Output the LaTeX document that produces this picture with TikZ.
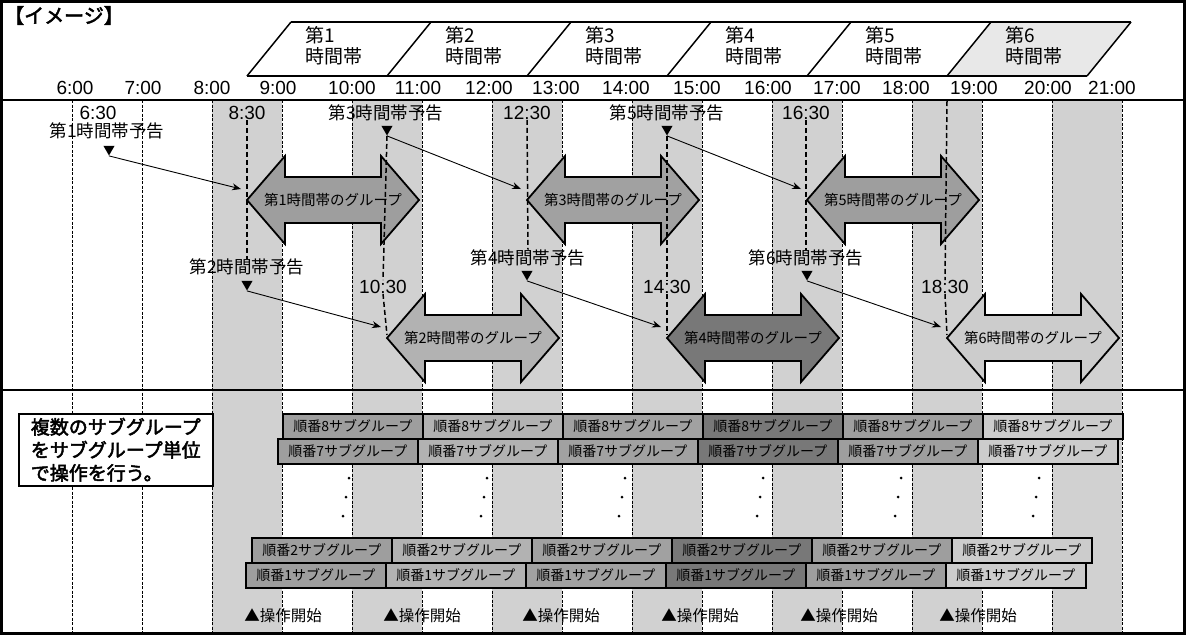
\documentclass[tikz,border=0pt]{standalone}
\usepackage{fontspec}
\setmainfont{Liberation Sans}
\newfontfamily\jp[AutoFakeBold=2.5]{Noto Sans CJK JP}
\usetikzlibrary{shapes.geometric,arrows.meta}
\definecolor{bandgray}{gray}{0.82}
\definecolor{gA}{gray}{0.62}
\definecolor{gB}{gray}{0.70}
\definecolor{gC}{gray}{0.63}
\definecolor{gD}{gray}{0.47}
\definecolor{gE}{gray}{0.62}
\definecolor{gF}{gray}{0.80}
\newcommand\grouparrow[5]{%
  \draw[line width=1.8pt, fill=#4, line join=miter] (#2,#3) -- ++(38,-44) -- ++(0,21) -- ++(96,0) -- ++(0,-21) -- ++(38,44) -- ++(-38,44) -- ++(0,-21) -- ++(-96,0) -- ++(0,21) -- cycle;
  \node[grouptext] (#1) at ({#2+86},#3) {#5};
  \coordinate (#1tip) at (#2,#3);
}
\begin{document}
\begin{tikzpicture}[x=1pt,y=-1pt,
  gridline/.style={draw=black, dash pattern=on 3pt off 1.5pt, line width=0.8pt},
  midline/.style={draw=black, dash pattern=on 5pt off 3pt, line width=1.5pt},
  timelbl/.style={font=\fontsize{19}{19}\selectfont, inner sep=0pt},
  jplbl/.style={font=\jp\fontsize{17.5}{17.5}\selectfont, inner sep=0pt},
  tri/.style={regular polygon, regular polygon sides=3, shape border rotate=180, fill=black, inner sep=0pt, minimum size=13pt},
  conn/.style={-{Stealth[length=9pt,width=7pt]}, line width=0.9pt},
  grouptext/.style={font=\jp\fontsize{14.5}{14.5}\selectfont, inner sep=0pt},
  subbox/.style={draw=black, line width=1.8pt, minimum width=140pt, minimum height=25pt, anchor=north west, inner sep=0pt, font=\jp\fontsize{14}{14}\selectfont},
  startlbl/.style={font=\jp\fontsize{15.5}{15.5}\selectfont, inner sep=0pt},
  headlbl/.style={font=\jp\fontsize{19}{21}\selectfont, align=left, anchor=north west, inner sep=0pt},
]
\useasboundingbox (0,0) rectangle (1186,635);
\fill[white] (0,0) rectangle (1186,635);
% bands and grid
\foreach \x in {212,352,...,1052} {
  \fill[bandgray] (\x,100) rectangle (\x+70,632);
  \draw[gridline] (\x,100) -- (\x,632);
  \draw[gridline] (\x+70,100) -- (\x+70,632);
}
\draw[gridline] (72,100) -- (72,632);
\draw[gridline] (142,100) -- (142,632);
% horizontal rules and frame
\draw[line width=1.5pt] (0,100) -- (1186,100);
\draw[line width=1.5pt] (0,390) -- (1186,390);
\draw[line width=3pt] (1.5,1.5) rectangle (1184.5,633.5);
% title
\node[font=\jp\bfseries\fontsize{20}{20}\selectfont, anchor=north west, inner sep=0pt] (title) at (4,6) {【イメージ】};
% header parallelograms
\fill[gray!18] (947,76) -- (991,22) -- (1131,22) -- (1087,76) -- cycle;
\draw[line width=1.5pt] (291,22) -- (1131,22);
\draw[line width=1.5pt] (247,76) -- (1087,76);
\foreach \k in {0,...,6} {
  \draw[line width=1.5pt] ({247+140*\k},76) -- ({291+140*\k},22);
}
\foreach \k in {1,...,6} {
  \node[headlbl] (h\k) at ({305+140*(\k-1)},26) {第\k\\時間帯};
}
% time labels
\foreach \x/\t [count=\i] in {75/6:00, 143/7:00, 212/8:00, 278/9:00, 352/10:00, 418/11:00, 489/12:00, 556/13:00, 626/14:00, 697/15:00, 768/16:00, 837/17:00, 906/18:00, 974/19:00, 1048/20:00, 1112/21:00} {
  \node[timelbl] (tm\i) at (\x,88) {\t};
}
% group arrows
\grouparrow{g1}{247}{200}{gA}{第1時間帯のグループ}
\grouparrow{g3}{527}{200}{gC}{第3時間帯のグループ}
\grouparrow{g5}{807}{200}{gE}{第5時間帯のグループ}
\grouparrow{g2}{387}{338}{gB}{第2時間帯のグループ}
\grouparrow{g4}{667}{338}{gD}{第4時間帯のグループ}
\grouparrow{g6}{947}{338}{gF}{第6時間帯のグループ}
% labels
\node[timelbl] (l630) at (98,113) {6:30};
\node[jplbl] (p1) at (107,131) {第1時間帯予告};
\node[tri] (t1) at (109,149) {};
\node[timelbl] (l830) at (247,113) {8:30};
\node[jplbl] (p3) at (386,113) {第3時間帯予告};
\node[tri] (t3) at (387,129) {};
\node[timelbl] (l1230) at (527,113) {12:30};
\node[jplbl] (p5) at (667,113) {第5時間帯予告};
\node[tri] (t5) at (667,129) {};
\node[timelbl] (l1630) at (806,113) {16:30};
\node[jplbl] (p2) at (247,267) {第2時間帯予告};
\node[tri] (t2) at (247,284) {};
\node[jplbl] (p4) at (528,258) {第4時間帯予告};
\node[tri] (t4) at (527,274) {};
\node[jplbl] (p6) at (806,258) {第6時間帯予告};
\node[tri] (t6) at (807,274) {};
\node[timelbl] (l1030) at (383,287) {10:30};
\node[timelbl] (l1430) at (667,287) {14:30};
\node[timelbl] (l1830) at (945,287) {18:30};
% mid dashed lines
\draw[midline] (l830.south) -- (p2.north);
\draw[midline] (t3.south) -- (l1030.north);
\draw[midline] (l1030.south) -- (387,335);
\draw[midline] (l1230.south) -- (p4.north);
\draw[midline] (t5.south) -- (l1430.north);
\draw[midline] (l1430.south) -- (667,335);
\draw[midline] (l1630.south) -- (p6.north);
\draw[midline] (947,101) -- (l1830.north);
\draw[midline] (l1830.south) -- (947,335);
% connector ends
\coordinate (e1) at (241,189);
\coordinate (e3) at (521,189);
\coordinate (e5) at (801,189);
\coordinate (e2) at (381,327);
\coordinate (e4) at (661,327);
\coordinate (e6) at (941,327);
\draw[conn] (t1.south) -- (e1);
\draw[conn] (t3.south) -- (e3);
\draw[conn] (t5.south) -- (e5);
\draw[conn] (t2.south) -- (e2);
\draw[conn] (t4.south) -- (e4);
\draw[conn] (t6.south) -- (e6);
% lower section
\node[draw, line width=1.5pt, fill=white, align=left, anchor=north west, font=\jp\bfseries\fontsize{19}{23}\selectfont, inner xsep=9pt, inner ysep=4pt, minimum width=194pt, minimum height=72pt] (note) at (18,413) {複数のサブグループ\\をサブグループ単位\\で操作を行う。};
\foreach \r/\x/\y in {8/282/413, 7/277/438, 2/251/537, 1/245/562} {
  \foreach \c [count=\k from 0] in {gA,gB,gC,gD,gE,gF} {
    \node[subbox, fill=\c] (b\r\k) at ({\x+140*\k},\y) {順番\r サブグループ};
  }
}
\foreach \k in {0,...,5} {
  \fill ({349+138*\k},478) circle (1.5pt);
  \fill ({346+138*\k},497) circle (1.5pt);
  \fill ({343+138*\k},516) circle (1.5pt);
  \node[startlbl] (s\k) at ({283+139*\k},616) {▲操作開始};
}
\end{tikzpicture}
\end{document}
